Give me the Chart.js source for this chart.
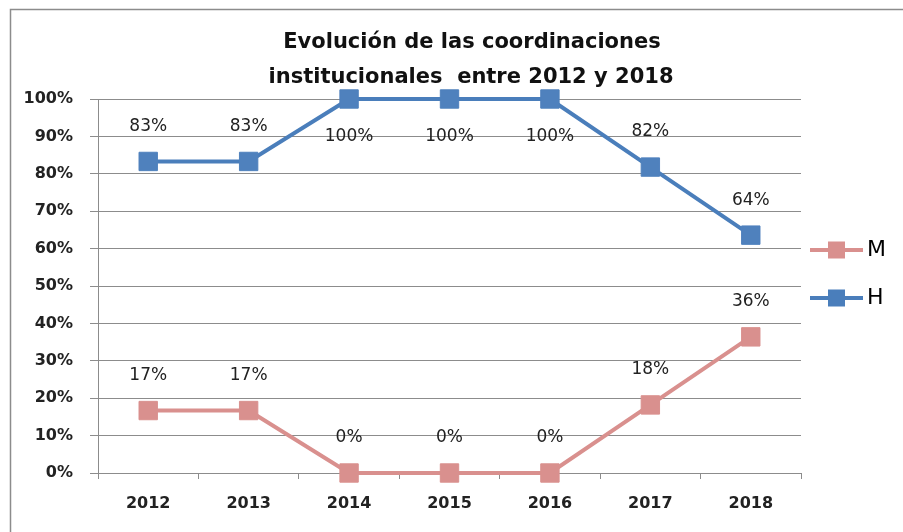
<!DOCTYPE html>
<html>
<head>
<meta charset="utf-8">
<script src="https://cdn.jsdelivr.net/npm/chart.js@4/dist/chart.umd.min.js"></script>
<style>
  html, body { margin: 0; padding: 0; background: #fff; }
  #wrap { width: 903px; height: 532px; position: relative; }
</style>
</head>
<body>
<div id="wrap"><canvas id="myChart" width="903" height="532"></canvas></div>
<script>
// data
var years = ["2012", "2013", "2014", "2015", "2016", "2017", "2018"];
var valuesH = [83.3, 83.3, 100, 100, 100, 81.8, 63.6];
var valuesM = [16.7, 16.7, 0, 0, 0, 18.2, 36.4];
var titleLines = ["Evolución de las coordinaciones", "institucionales  entre 2012 y 2018"];

var blue = "#4a7ebb";
var pink = "#d9908e";

// title, frame and legend drawn by hand
var extras = {
  id: "extras",
  beforeDraw: function(chart) {
    var ctx = chart.ctx;
    ctx.save();
    ctx.fillStyle = "#fff";
    ctx.fillRect(0, 0, chart.width, chart.height);
    ctx.strokeStyle = "#8c8c8c";
    ctx.lineWidth = 1.5;
    ctx.beginPath();
    ctx.moveTo(10.5, chart.height);
    ctx.lineTo(10.5, 9.5);
    ctx.lineTo(chart.width, 9.5);
    ctx.stroke();
    ctx.restore();
  },
  afterDraw: function(chart) {
    var ctx = chart.ctx;
    ctx.save();
    // title
    ctx.fillStyle = "#111";
    ctx.font = "bold 21px 'DejaVu Sans'";
    ctx.textAlign = "center";
    ctx.textBaseline = "alphabetic";
    ctx.fillText(titleLines[0], 472, 48);
    ctx.fillText(titleLines[1], 471, 83);

    // legend
    var items = [{ label: "M", color: pink, y: 250 }, { label: "H", color: blue, y: 298 }];
    items.forEach(function(it) {
      ctx.strokeStyle = it.color;
      ctx.lineWidth = 4;
      ctx.beginPath();
      ctx.moveTo(810, it.y);
      ctx.lineTo(863, it.y);
      ctx.stroke();
      ctx.fillStyle = it.color;
      ctx.fillRect(828, it.y - 8.5, 17, 17);
      ctx.fillStyle = "#000";
      ctx.font = "22px 'DejaVu Sans'";
      ctx.textAlign = "left";
      ctx.textBaseline = "middle";
      ctx.fillText(it.label, 867, it.y);
    });

    // data labels
    ctx.font = "17px 'DejaVu Sans'";
    ctx.fillStyle = "#222";
    ctx.textAlign = "center";
    ctx.textBaseline = "middle";
    chart.data.datasets.forEach(function(ds, i) {
      var meta = chart.getDatasetMeta(i);
      meta.data.forEach(function(pt, j) {
        var v = ds.data[j];
        var dy = v >= 100 ? 38 : -35;
        ctx.fillText(Math.round(v) + "%", pt.x, pt.y + dy);
      });
    });
    ctx.restore();
  }
};

var data = {
  labels: years,
  datasets: [
    {
      label: "M",
      data: valuesM,
      borderColor: pink,
      backgroundColor: pink,
      borderWidth: 4,
      pointStyle: "rect",
      pointRadius: 13,
      pointBorderWidth: 1,
      pointBackgroundColor: pink,
      pointBorderColor: pink,
      clip: false,
      tension: 0
    },
    {
      label: "H",
      data: valuesH,
      borderColor: blue,
      backgroundColor: blue,
      borderWidth: 4,
      pointStyle: "rect",
      pointRadius: 13,
      pointBorderWidth: 1,
      pointBackgroundColor: "#4f81bd",
      pointBorderColor: "#4f81bd",
      clip: false,
      tension: 0
    }
  ]
};

var config = {
  type: "line",
  data: data,
  plugins: [extras],
  options: {
    responsive: false,
    animation: false,
    devicePixelRatio: 1,
    layout: { padding: { top: 99, right: 102, bottom: 0, left: 0 } },
    plugins: {
      legend: { display: false },
      title: { display: false },
      tooltip: { enabled: false }
    },
    scales: {
      x: {
        offset: true,
        afterFit: function(scale) { scale.height = 59; },
        grid: {
          display: true,
          offset: true,
          drawOnChartArea: false,
          drawTicks: true,
          tickLength: 6,
          color: "#8c8c8c"
        },
        border: { display: true, color: "#8c8c8c" },
        ticks: {
          color: "#222",
          padding: 15,
          font: { family: "DejaVu Sans", size: 16, weight: "bold" }
        }
      },
      y: {
        min: 0,
        max: 100,
        afterFit: function(scale) { scale.width = 98; },
        grid: {
          color: "#8c8c8c",
          tickLength: 8
        },
        border: { display: true, color: "#8c8c8c" },
        ticks: {
          stepSize: 10,
          color: "#222",
          padding: 17,
          font: { family: "DejaVu Sans", size: 16, weight: "bold" },
          callback: function(v) { return v + "%"; }
        }
      }
    }
  }
};

var myChart = new Chart(document.getElementById("myChart"), config);
</script>
</body>
</html>
